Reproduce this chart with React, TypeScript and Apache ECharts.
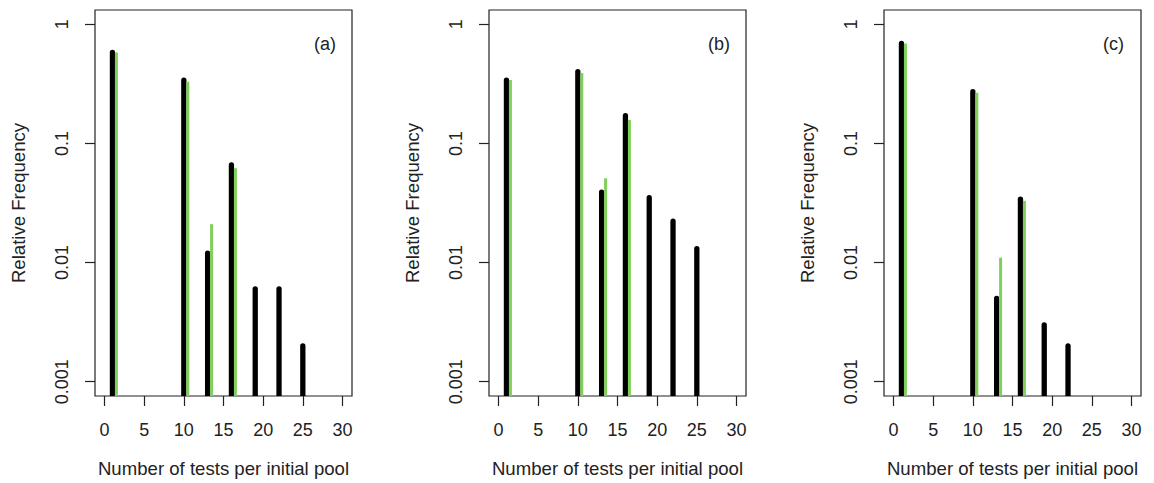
import React, { useEffect, useRef } from "react";
import * as echarts from "echarts";

const panelLabels = ["(a)", "(b)", "(c)"];
const blackX = [1, 10, 13, 16, 19, 22, 25];
const greenX = [1.5, 10.5, 13.5, 16.5];

const blackA = [0.58, 0.34, 0.012, 0.066, 0.006, 0.006, 0.002];
const greenA = [0.58, 0.33, 0.021, 0.062];
const blackB = [0.34, 0.4, 0.039, 0.171, 0.035, 0.0223, 0.0131];
const greenB = [0.34, 0.39, 0.051, 0.157];
const blackC = [0.69, 0.272, 0.005, 0.034, 0.003, 0.002];
const greenC = [0.69, 0.266, 0.011, 0.033];

const xTicks = [0, 5, 10, 15, 20, 25, 30];
const yTicks = [0.001, 0.01, 0.1, 1];

const xTitle = "Number of tests per initial pool";
const yTitle = "Relative Frequency";

const Y_MIN = -3.12;
const Y_MAX = 0.12;

export default function App() {
  const ref = useRef<HTMLDivElement>(null);
  useEffect(() => {
    document.body.style.margin = "0";
    const chart = echarts.init(ref.current!, null, { renderer: "svg" });
    const panels = [
      { black: blackA, green: greenA },
      { black: blackB, green: greenB },
      { black: blackC, green: greenC },
    ];
    const lefts = [95, 489, 884];
    const font = "'Liberation Sans', Arial, sans-serif";
    const fs = 18;
    const fsTitle = 18.6;
    const grids: any[] = [];
    const xAxes: any[] = [];
    const yAxes: any[] = [];
    const series: any[] = [];
    const graphics: any[] = [];
    panels.forEach((p, i) => {
      grids.push({
        left: lefts[i],
        top: 10,
        width: 257,
        height: 387,
        show: true,
        borderColor: "#222",
        borderWidth: 1.2,
        backgroundColor: "transparent",
      });
      xAxes.push({
        gridIndex: i,
        type: "value",
        position: "bottom",
        min: -1.2,
        max: 31.2,
        splitLine: { show: false },
        axisLine: { show: false, onZero: false },
        axisTick: {
          show: true,
          inside: false,
          length: 10,
          customValues: xTicks,
          lineStyle: { color: "#222", width: 1.2 },
        },
        axisLabel: {
          customValues: xTicks,
          color: "#222",
          fontSize: fs,
          fontFamily: font,
          margin: 25,
        },
        name: xTitle,
        nameLocation: "middle",
        nameGap: 63,
        nameTextStyle: { color: "#222", fontSize: fsTitle, fontFamily: font },
      });
      yAxes.push({
        gridIndex: i,
        type: "value",
        position: "left",
        min: Y_MIN,
        max: Y_MAX,
        splitLine: { show: false },
        axisLine: { show: false, onZero: false },
        axisTick: {
          show: true,
          length: 10,
          customValues: yTicks.map((v) => Math.log10(v)),
          lineStyle: { color: "#222", width: 1.2 },
        },
        axisLabel: {
          customValues: yTicks.map((v) => Math.log10(v)),
          rotate: 90,
          color: "#222",
          fontSize: fs,
          fontFamily: font,
          margin: 24,
          formatter: (v: number) => {
            const r = Math.round(v);
            return String(Math.pow(10, r).toFixed(Math.max(0, -r)));
          },
        },
        name: yTitle,
        nameLocation: "middle",
        nameGap: 67,
        nameRotate: 90,
        nameTextStyle: { color: "#222", fontSize: fsTitle, fontFamily: font },
      });
      const mk = (xs: number[], vs: number[], color: string, w: number, cap: string) => ({
        type: "custom",
        xAxisIndex: i,
        yAxisIndex: i,
        clip: true,
        data: vs.map((v, k) => [xs[k], Math.log10(v)]),
        renderItem: (params: any, api: any) => {
          const x = api.value(0);
          const y = api.value(1);
          const p0 = api.coord([x, Y_MIN]);
          const p1 = api.coord([x, y]);
          return {
            type: "line",
            shape: { x1: p0[0], y1: p0[1] + 4, x2: p1[0], y2: p1[1] },
            style: { stroke: color, lineWidth: w, lineCap: cap },
          };
        },
      });
      series.push(mk(blackX, p.black, "#000", 5.3, "round"));
      series.push(mk(greenX, p.green, "#7fd05a", 3, "butt"));
      graphics.push({
        type: "text",
        left: lefts[i] + 219,
        top: 35,
        style: { text: panelLabels[i], fill: "#222", font: `${fs}px ${font}` },
      });
    });
    chart.setOption({
      animation: false,
      backgroundColor: "#fff",
      grid: grids,
      xAxis: xAxes,
      yAxis: yAxes,
      series,
      graphic: graphics,
    });
    return () => chart.dispose();
  }, []);
  return <div ref={ref} style={{ width: 1154, height: 483 }} />;
}
